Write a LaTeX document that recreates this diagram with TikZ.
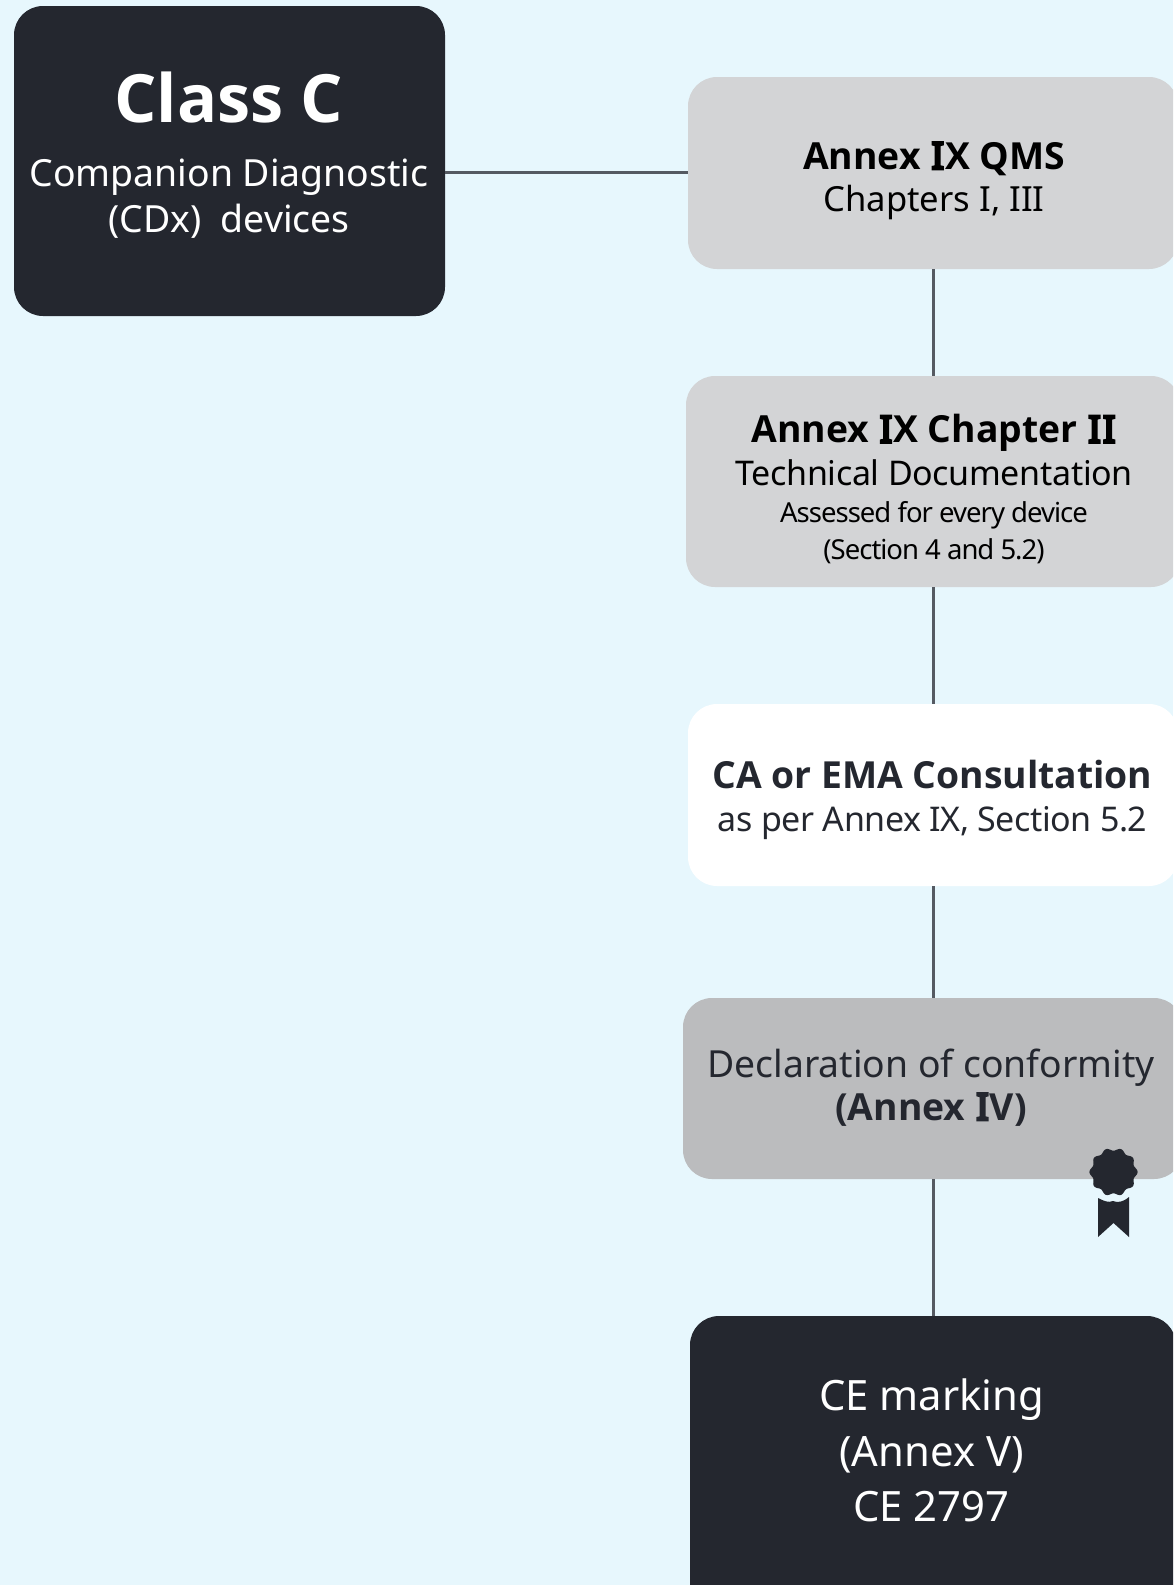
\documentclass[tikz,border=0pt]{standalone}
\usepackage{fontspec}
\setmainfont{Noto Sans}
\newfontfamily\bfam{Open Sans}[Ligatures=TeX]
\newfontfamily\ifam{Noto Sans}[FakeBold=7]
\definecolor{bgc}{HTML}{E7F7FD}
\definecolor{darkc}{HTML}{24272F}
\definecolor{greyc}{HTML}{D3D4D6}
\definecolor{midc}{HTML}{BBBCBE}
\definecolor{linec}{HTML}{555A62}
\tikzset{
  boxst/.style={rounded corners=29pt,inner sep=0pt,outer sep=0pt,draw=none},
  linest/.style={draw=linec,line width=3pt},
  lab/.style={anchor=base,inner sep=0pt,outer sep=0pt},
}
\newcommand{\fs}[1]{\fontsize{#1}{#1}\selectfont}
\newcommand{\trk}[1]{\addfontfeatures{LetterSpace=#1}}
\newcommand{\bld}{\bfam\bfseries}
\newcommand{\BI}{\kern1pt{\ifam I}\kern1pt}
\begin{document}
\begin{tikzpicture}[x=1pt,y=-1pt]
\useasboundingbox (0,0) rectangle (1173,1585);
\clip (0,0) rectangle (1173,1585);
\fill[bgc] (0,0) rectangle (1173,1585);
\node[boxst,fill=darkc,minimum width=431pt,minimum height=310pt] (classc) at (229.5,161) {};
\node[boxst,fill=greyc,minimum width=490pt,minimum height=192pt] (qms) at (933,173) {};
\node[boxst,fill=greyc,minimum width=494pt,minimum height=211pt] (chap) at (933,481.5) {};
\node[boxst,fill=white,minimum width=490pt,minimum height=182pt] (cons) at (933,795) {};
\node[boxst,fill=midc,minimum width=500pt,minimum height=181pt] (decl) at (933,1088.5) {};
\node[boxst,fill=darkc,minimum width=486pt,minimum height=300pt] (ce) at (933,1466) {};
\coordinate (qmsl) at ([yshift=1pt]qms.west);
\draw[linest] (classc.east |- qmsl) -- (qmsl);
\draw[linest] (qms.south) -- (chap.north);
\draw[linest] (chap.south) -- (cons.north);
\draw[linest] (cons.south) -- (decl.north);
\draw[linest] (decl.south) -- (ce.north);
% Class C
\node[lab,text=white,font=\fs{66.6}\bld] (t1) at (229,122) {Class C};
\node[lab,text=white,font=\fs{37.4}] (t2) at (229,186) {Companion Diagnostic};
\node[lab,text=white,font=\fs{37.4}] (t3) at (229,232) {(CDx)\ \ devices};
% QMS
\node[lab,text=black,font=\fs{37.3}\bld] (t4) at (934,169) {Annex \BI X QMS};
\node[lab,text=black,font=\fs{34.6}] (t5) at (934,211) {Chapters I, III};
% Chapter II
\node[lab,text=black,font=\fs{37.3}\bld] (t6) at (934,442.5) {Annex \BI X Chapter \BI\BI};
\node[lab,text=black,font=\fs{34}\trk{-1}] (t7) at (934,485) {Technical Documentation};
\node[lab,text=black,font=\fs{27.5}\trk{-3.6}] (t8) at (934,522) {Assessed for every device};
\node[lab,text=black,font=\fs{27.5}\trk{-3.7}] (t9) at (934,559) {(Section 4 and 5.2)};
% Consultation
\node[lab,text=darkc,font=\fs{37.3}\bld] (t10) at (932.5,788.5) {CA or EMA Consultation};
\node[lab,text=darkc,font=\fs{34}\trk{-1.3}] (t11) at (932.5,831) {as per Annex IX, Section 5.2};
% Declaration
\node[lab,text=darkc,font=\fs{37.3}] (t12) at (931,1077) {Declaration of conformity};
\node[lab,text=darkc,font=\fs{37.3}\bld] (t13) at (931,1120) {(Annex \BI V)};
% CE
\node[lab,text=white,font=\fs{41.8}] (t14) at (931.5,1410) {CE marking};
\node[lab,text=white,font=\fs{41.8}] (t15) at (931.5,1466) {(Annex V)};
\node[lab,text=white,font=\fs{41.8}] (t16) at (931.5,1521.5) {CE 2797};
% seal
\fill[darkc] (1098,1198) .. controls (1104,1201) and (1108,1203) .. (1113,1201) .. controls (1118,1203) and (1123,1202) .. (1129,1197) -- (1129,1237) -- (1113.5,1223) -- (1098,1237) -- cycle;
\fill[darkc] plot[domain=0:360,samples=121,smooth] ({1113.5+(22.7+1.4*cos(10*\x))*cos(\x)},{1172+(22.7+1.4*cos(10*\x))*sin(\x)}) -- cycle;
\end{tikzpicture}
\end{document}
